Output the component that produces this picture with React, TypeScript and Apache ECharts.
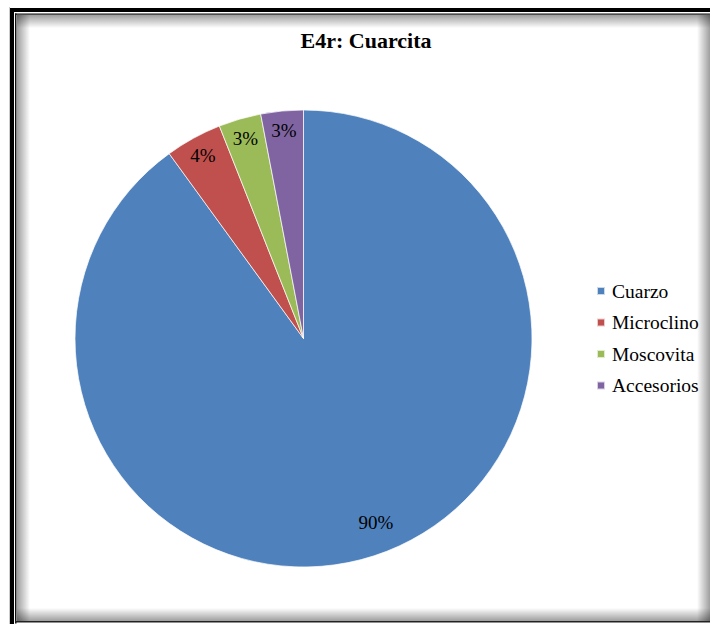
import React, { useEffect, useRef } from "react";
import * as echarts from "echarts";

const titleText = "E4r: Cuarcita";
const categories = ["Cuarzo", "Microclino", "Moscovita", "Accesorios"];
const values = [90, 4, 3, 3];
const colors = ["#4F81BD", "#C0504D", "#9BBB59", "#8064A2"];

const SERIF = "'Liberation Serif', 'Times New Roman', serif";

export default function App() {
  const ref = useRef<HTMLDivElement>(null);

  useEffect(() => {
    if (!ref.current) return;
    const chart = echarts.init(ref.current, undefined, { renderer: "svg" });
    const R = 228.5;
    const center = [303.5, 338.5];
    const pieData = categories.map((name, i) => ({
      name,
      value: values[i],
      itemStyle: { color: colors[i] },
    }));
    const shadow = (x: number, y: number, w: number, h: number, dir: string) => {
      const g =
        dir === "left"
          ? [0, 0, 1, 0]
          : dir === "right"
          ? [1, 0, 0, 0]
          : dir === "top"
          ? [0, 0, 0, 1]
          : [0, 1, 0, 0];
      return {
        type: "rect",
        silent: true,
        z: 0,
        shape: { x, y, width: w, height: h },
        style: {
          fill: new echarts.graphic.LinearGradient(g[0], g[1], g[2], g[3], [
            { offset: 0, color: "rgba(0,0,0,0.38)" },
            { offset: 1, color: "rgba(0,0,0,0)" },
          ]),
        },
      };
    };
    chart.setOption({
      animation: false,
      backgroundColor: "#ffffff",
      textStyle: { fontFamily: SERIF },
      title: {
        text: titleText,
        left: 361,
        top: 24,
        textAlign: "center",
        textStyle: {
          fontFamily: SERIF,
          fontWeight: "bold",
          fontSize: 22,
          color: "#000",
          lineHeight: 22,
        },
      },
      legend: {
        orient: "vertical",
        left: 591,
        top: 276,
        itemWidth: 8,
        itemHeight: 8,
        itemGap: 11.5,
        icon: "rect",
        selectedMode: false,
        data: categories.map((n, i) => ({ name: n, itemStyle: { color: colors[i] } })),
        textStyle: {
          fontFamily: SERIF,
          fontSize: 19.5,
          lineHeight: 20,
          color: "#000",
          padding: [0, 0, 0, 2],
        },
      },
      graphic: [
        shadow(17, 15, 13, 606, "left"),
        shadow(17, 15, 693, 13, "top"),
        shadow(17, 608, 693, 13, "bottom"),
        shadow(697, 15, 13, 606, "right"),
        { type: "rect", silent: true, shape: { x: 9, y: 7, width: 1, height: 617 }, style: { fill: "#cccccc" } },
        { type: "rect", silent: true, shape: { x: 10, y: 8, width: 4, height: 616 }, style: { fill: "#000" } },
        { type: "rect", silent: true, shape: { x: 10, y: 8, width: 700, height: 4 }, style: { fill: "#000" } },
        { type: "rect", silent: true, shape: { x: 15, y: 13.5, width: 1.5, height: 610 }, style: { fill: "#111" } },
        { type: "rect", silent: true, shape: { x: 15, y: 13.5, width: 695, height: 1.2 }, style: { fill: "#111" } },
        { type: "rect", silent: true, shape: { x: 15, y: 621, width: 695, height: 1.5 }, style: { fill: "#222" } },
      ],
      series: [
        {
          type: "pie",
          center,
          radius: [0, R],
          startAngle: 90,
          clockwise: true,
          silent: true,
          label: { show: false },
          labelLine: { show: false },
          itemStyle: { borderColor: "rgba(255,255,255,0.7)", borderWidth: 1 },
          data: pieData,
        },
        {
          type: "pie",
          center,
          radius: [R * 0.8, R],
          startAngle: 90,
          clockwise: true,
          silent: true,
          z: 3,
          itemStyle: { color: "rgba(0,0,0,0)", borderWidth: 0 },
          label: {
            show: true,
            position: "inside",
            formatter: (p: any) => `{t|${p.value}%}`,
            fontFamily: SERIF,
            fontSize: 19,
            color: "#000",
            rich: {
              t: { fontFamily: SERIF, fontSize: 19, color: "#000", fontWeight: "normal" },
            },
          },
          labelLine: { show: false },
          labelLayout: (p: any) => (p.dataIndex === 0 ? { dx: 8, dy: -14 } : {}),
          data: categories.map((name, i) => ({
            name,
            value: values[i],
            itemStyle: { color: "rgba(0,0,0,0)" },
          })),
        },
      ],
    });
    return () => chart.dispose();
  }, []);

  return (
    <div
      ref={ref}
      style={{ position: "absolute", left: 0, top: 0, width: 710, height: 624, background: "#fff" }}
    />
  );
}
